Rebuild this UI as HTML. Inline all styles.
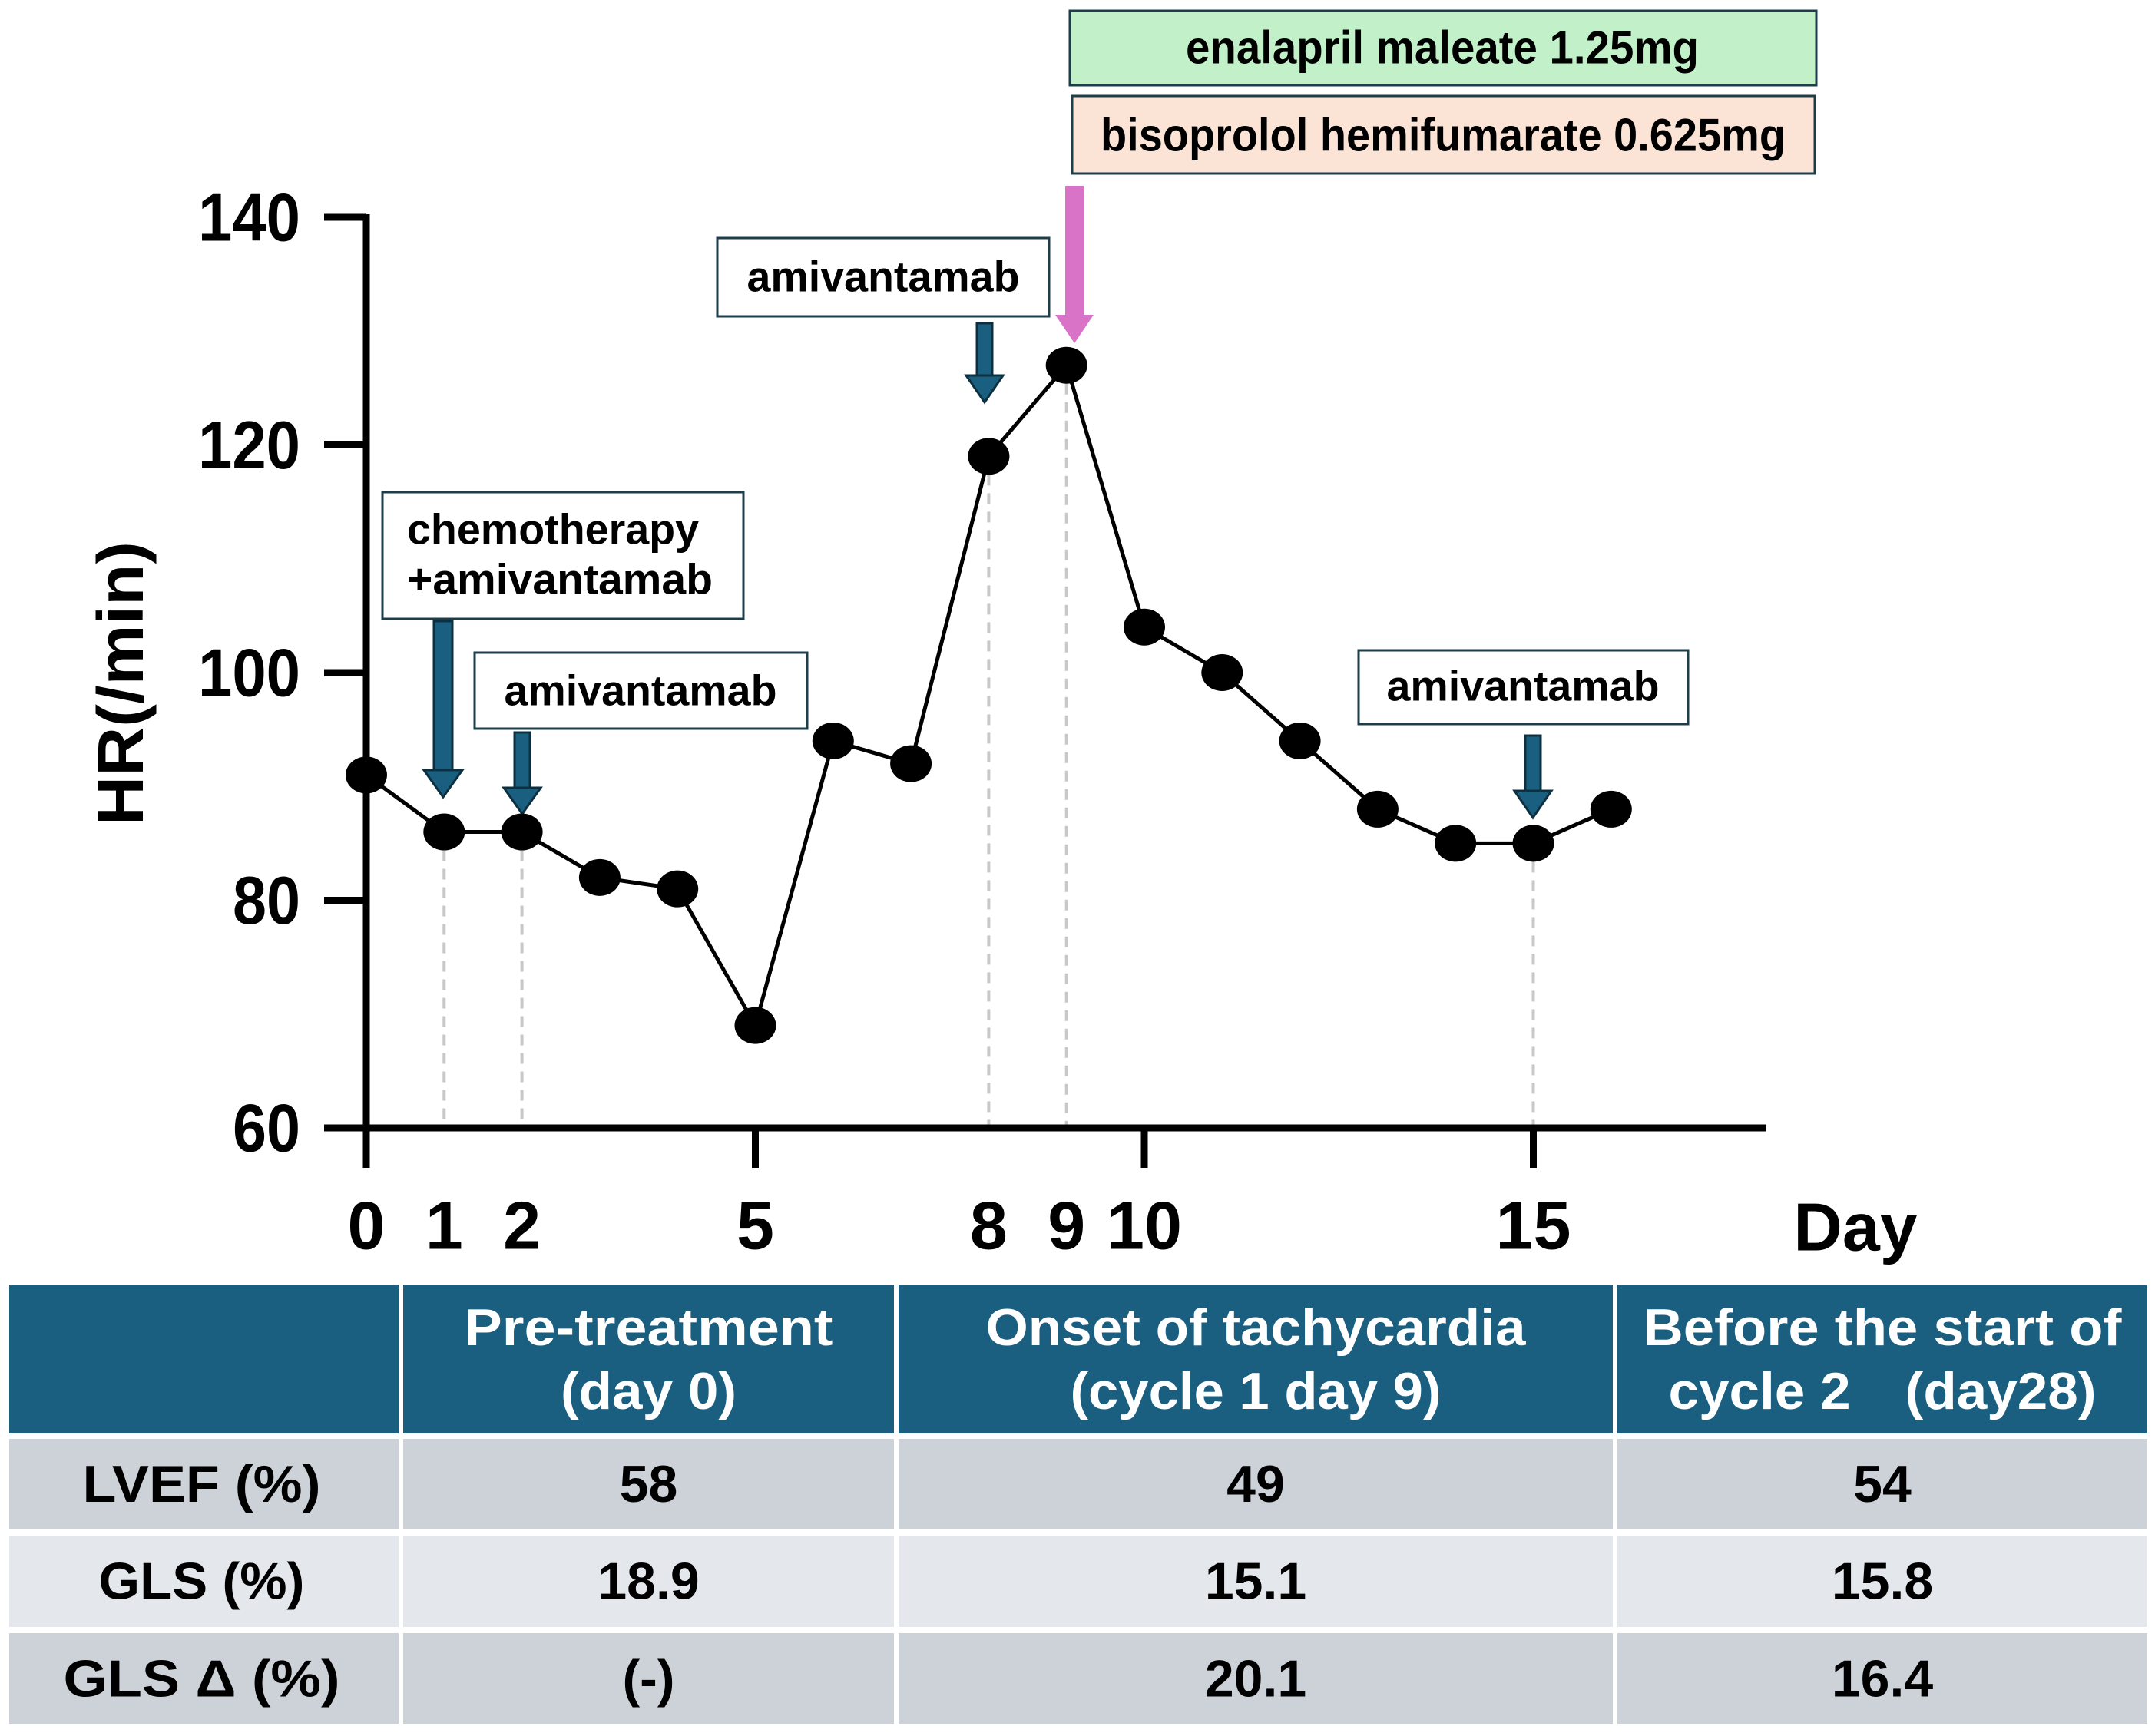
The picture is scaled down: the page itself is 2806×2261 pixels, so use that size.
<!DOCTYPE html>
<html><head><meta charset="utf-8"><style>
html,body{margin:0;padding:0;background:#fff;}
svg{display:block;}
text{font-family:"Liberation Sans",sans-serif;font-weight:bold;}
</style></head><body>
<svg id="c" width="2806" height="2261" viewBox="0 0 2806 2261">
<g id="ann">
  <rect x="1393" y="14" width="972" height="97" fill="#c2f0c8" stroke="#1c3d4a" stroke-width="3"/>
  <text x="1878" y="62" text-anchor="middle" dominant-baseline="central" font-size="60" textLength="668" lengthAdjust="spacingAndGlyphs">enalapril maleate 1.25mg</text>
  <rect x="1396" y="125" width="967" height="101" fill="#fbe3d6" stroke="#1c3d4a" stroke-width="3"/>
  <text x="1879" y="176" text-anchor="middle" dominant-baseline="central" font-size="60" textLength="892" lengthAdjust="spacingAndGlyphs">bisoprolol hemifumarate 0.625mg</text>

  <rect x="498" y="641" width="470" height="165" fill="#fff" stroke="#1c3d4a" stroke-width="3"/>
  <text x="530" y="689" dominant-baseline="central" font-size="56" textLength="380" lengthAdjust="spacingAndGlyphs">chemotherapy</text>
  <text x="530" y="754" dominant-baseline="central" font-size="56" textLength="398" lengthAdjust="spacingAndGlyphs">+amivantamab</text>

  <rect x="618" y="850" width="433" height="99" fill="#fff" stroke="#1c3d4a" stroke-width="3"/>
  <text x="834" y="899" text-anchor="middle" dominant-baseline="central" font-size="56" textLength="355" lengthAdjust="spacingAndGlyphs">amivantamab</text>

  <rect x="934" y="310" width="432" height="102" fill="#fff" stroke="#1c3d4a" stroke-width="3"/>
  <text x="1150" y="360" text-anchor="middle" dominant-baseline="central" font-size="56" textLength="355" lengthAdjust="spacingAndGlyphs">amivantamab</text>

  <rect x="1769" y="847" width="429" height="96" fill="#fff" stroke="#1c3d4a" stroke-width="3"/>
  <text x="1983" y="893" text-anchor="middle" dominant-baseline="central" font-size="56" textLength="355" lengthAdjust="spacingAndGlyphs">amivantamab</text>

  <g><rect x="565" y="809" width="24" height="196" fill="#1a5e80" stroke="#0d3040" stroke-width="3"/><polygon points="552,1003 602,1003 577,1038" fill="#1a5e80" stroke="#0d3040" stroke-width="3"/></g>
  <g><rect x="670" y="954" width="20" height="74" fill="#1a5e80" stroke="#0d3040" stroke-width="3"/><polygon points="656,1026 704,1026 680,1060" fill="#1a5e80" stroke="#0d3040" stroke-width="3"/></g>
  <g><rect x="1272" y="421" width="20" height="70" fill="#1a5e80" stroke="#0d3040" stroke-width="3"/><polygon points="1258,489 1306,489 1282,524" fill="#1a5e80" stroke="#0d3040" stroke-width="3"/></g>
  <g><rect x="1986" y="958" width="20" height="73" fill="#1a5e80" stroke="#0d3040" stroke-width="3"/><polygon points="1972,1030 2020,1030 1996,1065" fill="#1a5e80" stroke="#0d3040" stroke-width="3"/></g>
  <g><rect x="1387" y="242" width="24" height="170" fill="#d873c8"/><polygon points="1374,410 1424,410 1399,447" fill="#d873c8"/></g>
</g>
<g id="plot"></g>
<g id="tbl"></g>
</svg>
<script>
const days = [0,1,2,3,4,5,6,7,8,9,10,11,12,13,14,15,16];
const hr = [91,86,86,82,81,69,94,92,119,127,104,100,94,88,85,85,88];
const dashedDays = [1,2,8,9,15];
const yTicks = [60,80,100,120,140];
const xTickLabels = [0,1,2,5,8,9,10,15];
const majorXTicks = [0,5,10,15];
const NS = 'http://www.w3.org/2000/svg';
const X0 = 477, DX = 101.3, Y60 = 1469, PER = 296.5/20;
function xs(d){return X0 + d*DX;}
function ys(v){return Y60 - (v-60)*PER;}
function mk(tag, attrs, parent){const e=document.createElementNS(NS,tag);for(const k in attrs)e.setAttribute(k,attrs[k]);parent.appendChild(e);return e;}
const plot = document.getElementById('plot');
// dashed
dashedDays.forEach(d=>{
  const l = mk('line',{x1:xs(d),x2:xs(d),y1:ys(hr[days.indexOf(d)]),y2:Y60,stroke:'#c8c8c8','stroke-width':4,'stroke-dasharray':'14 10'},plot);
  
  
});
// axes
const ya = mk('line',{x1:X0,x2:X0,y1:ys(140)-4,y2:Y60+52,stroke:'#000','stroke-width':9},plot);


const xa = mk('line',{x1:X0-4,x2:2300,y1:Y60,y2:Y60,stroke:'#000','stroke-width':9},plot);


yTicks.forEach(v=>{
  const t = mk('line',{x1:422,x2:X0,y1:ys(v),y2:ys(v),stroke:'#000','stroke-width':9},plot);
  
  
  const tx = mk('text',{x:391,y:ys(v),'text-anchor':'end','dominant-baseline':'central','font-size':88,textLength:133,lengthAdjust:'spacingAndGlyphs'},plot);
  if(v<100){tx.setAttribute('textLength',88);}
  tx.textContent = v;
  
  
});
majorXTicks.forEach(d=>{
  const t = mk('line',{x1:xs(d),x2:xs(d),y1:Y60,y2:Y60+52,stroke:'#000','stroke-width':9},plot);
  
  
});
xTickLabels.forEach(d=>{
  const tx = mk('text',{x:xs(d),y:1596,'text-anchor':'middle','dominant-baseline':'central','font-size':88},plot);
  tx.textContent = d;
  
  
});
const dayL = mk('text',{x:2416,y:1598,'text-anchor':'middle','dominant-baseline':'central','font-size':88},plot);
dayL.textContent='Day';


const yt = mk('text',{x:0,y:0,'text-anchor':'middle','dominant-baseline':'central','font-size':84,transform:'translate(157,890) rotate(-90)',textLength:370,lengthAdjust:'spacingAndGlyphs'},plot);
yt.textContent='HR(/min)';


// line
const pl = mk('polyline',{points:days.map((d,i)=>xs(d)+','+ys(hr[i])).join(' '),fill:'none',stroke:'#000','stroke-width':5},plot);


days.forEach((d,i)=>{
  const c = mk('ellipse',{cx:xs(d),cy:ys(hr[i]),rx:27,ry:24,fill:'#000'},plot);
  
  
});
// table
const tbl = document.getElementById('tbl');
const cols = [[12,519],[525,1164],[1170,2100],[2106,2796]];
const rowsY = [[1874,1992],[2000,2119],[2127,2246]];
const rowFill = ['#cdd2d9','#e4e8ec','#cdd2d9'];
const headers = [[],[['Pre-treatment',480],['(day 0)',229]],[['Onset of tachycardia',703],['(cycle 1 day 9)',483]],[['Before the start of',623],['cycle 2\u3000(day28)',557]]];
const rowLabels = [['LVEF (%)',310],['GLS (%)',268],['GLS \u0394 (%)',360]];
const values = [['58','49','54'],['18.9','15.1','15.8'],['(-)','20.1','16.4']];
cols.forEach((c,ci)=>{
  const r = mk('rect',{x:c[0],y:1673,width:c[1]-c[0],height:194,fill:'#1a5e80'},tbl);
  
  
  headers[ci].forEach((h,li)=>{
    const t = mk('text',{x:(c[0]+c[1])/2,y:li?1812:1729,'text-anchor':'middle','dominant-baseline':'central','font-size':68,fill:'#fff',textLength:h[1],lengthAdjust:'spacingAndGlyphs'},tbl);
    t.textContent=h[0];
    
    
  });
});
rowsY.forEach((ry,ri)=>{
  cols.forEach((c,ci)=>{
    const r = mk('rect',{x:c[0],y:ry[0],width:c[1]-c[0],height:ry[1]-ry[0],fill:rowFill[ri]},tbl);
    
    
    const t = mk('text',{x:(c[0]+c[1])/2,y:(ry[0]+ry[1])/2,'text-anchor':'middle','dominant-baseline':'central','font-size':68},tbl);
    if(ci===0){t.textContent=rowLabels[ri][0];t.setAttribute('textLength',rowLabels[ri][1]);t.setAttribute('lengthAdjust','spacingAndGlyphs');t.setAttribute('x',(c[0]+c[1])/2-3);}
    else t.textContent=values[ri][ci-1];
    
    
  });
});
</script>
</body></html>
